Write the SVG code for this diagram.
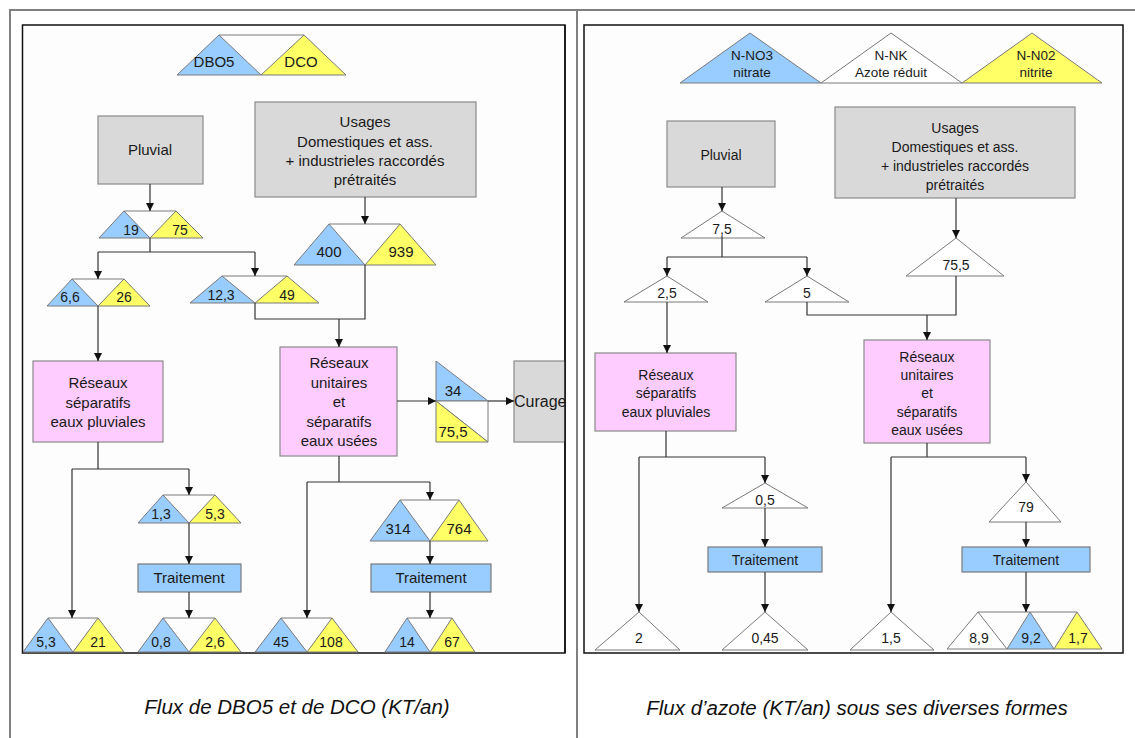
<svg xmlns="http://www.w3.org/2000/svg" width="1135" height="738" viewBox="0 0 1135 738">
<style>
text{font-family:"Liberation Sans",Arial,sans-serif;fill:#1a1a1a;text-anchor:middle}
.t15{font-size:15px}.t14{font-size:14px}.t13{font-size:13.5px}.t16{font-size:16px}
.cap{font-size:20.5px;font-style:italic;fill:#111}
.bl{fill:#99ccff;stroke:#7a7a7a;stroke-width:1}
.ye{fill:#ffff66;stroke:#7a7a7a;stroke-width:1}
.wh{fill:#ffffff;stroke:#7a7a7a;stroke-width:1}
.bar{fill:none;stroke:#7a7a7a;stroke-width:1}
.gray{fill:#d9d9d9;stroke:#8a8a8a;stroke-width:1.2}
.pink{fill:#ffccff;stroke:#8a8a8a;stroke-width:1.2}
.trt{fill:#99ccff;stroke:#7a7a7a;stroke-width:1.2}
.c{fill:none;stroke:#333;stroke-width:1.2}
.ca{fill:none;stroke:#333;stroke-width:1.2;marker-end:url(#ah)}
.frame{fill:#fdfdfd;stroke:#111;stroke-width:1.5}
.tab{fill:none;stroke:#808080;stroke-width:2}
</style>
<defs>
<marker id="ah" markerUnits="userSpaceOnUse" markerWidth="8" markerHeight="8" refX="8" refY="4" orient="auto">
<path d="M0,0 L8,4 L0,8 z" fill="#111"/>
</marker>
<clipPath id="clipL"><rect x="22.5" y="25" width="542.5" height="628"/></clipPath>
</defs>
<rect x="0" y="0" width="1135" height="738" fill="#ffffff"/>
<g id="table">
<path class="tab" d="M10,738 V10 H1135 M577,10 V738"/>
</g>
<rect id="frameL" class="frame" x="22.5" y="25" width="542.5" height="628"/>
<rect id="frameR" class="frame" x="584" y="25" width="539" height="628"/>

<!-- LEFT PANEL -->
<g id="legendL">
<path class="bar" d="M219,35 H304"/>
<polygon class="bl" points="177,75 219,35 261,75"/>
<polygon class="ye" points="261,75 304,35 346,75"/>
<text class="t15" x="214" y="67">DBO5</text>
<text class="t15" x="301" y="67">DCO</text>
</g>
<g id="pluvialL"><rect class="gray" x="98" y="116" width="105" height="68"/><text class="t15" x="150" y="155">Pluvial</text></g>
<g id="usagesL"><rect class="gray" x="255" y="102" width="221" height="95"/>
<text class="t15" x="365" y="127">Usages</text><text class="t15" x="365" y="147">Domestiques et ass.</text><text class="t15" x="365" y="166">+ industrieles raccordés</text><text class="t15" x="365" y="185">prétraités</text></g>
<g id="n19_75"><path class="bar" d="M124,211 H176"/><polygon class="bl" points="99,238 124,211 150,238"/><polygon class="ye" points="150,238 176,211 203,238"/>
<text class="t14" x="131" y="235">19</text><text class="t14" x="180" y="235">75</text></g>
<g id="n400_939"><path class="bar" d="M329,224 H400"/><polygon class="bl" points="294,265 329,224 365,265"/><polygon class="ye" points="365,265 400,224 436,265"/>
<text class="t15" x="329" y="257">400</text><text class="t15" x="401" y="257">939</text></g>
<g id="n66_26"><path class="bar" d="M72,279 H124"/><polygon class="bl" points="47,306 72,279 98,306"/><polygon class="ye" points="98,306 124,279 150,306"/>
<text class="t14" x="70" y="302">6,6</text><text class="t14" x="124" y="302">26</text></g>
<g id="n123_49"><path class="bar" d="M222,276 H287"/><polygon class="bl" points="190,303 222,276 255,303"/><polygon class="ye" points="255,303 287,276 319,303"/>
<text class="t14" x="221" y="300">12,3</text><text class="t14" x="287" y="300">49</text></g>
<g id="resSepL"><rect class="pink" x="33" y="361" width="130" height="81"/>
<text class="t15" x="98" y="388">Réseaux</text><text class="t15" x="98" y="408">séparatifs</text><text class="t15" x="98" y="427">eaux pluviales</text></g>
<g id="resUniL"><rect class="pink" x="280" y="347" width="117" height="109"/>
<text class="t15" x="339" y="368">Réseaux</text><text class="t15" x="339" y="388">unitaires</text><text class="t15" x="339" y="407">et</text><text class="t15" x="339" y="427">séparatifs</text><text class="t15" x="339" y="446">eaux usées</text></g>
<g id="n34_755">
<polygon class="bl" points="436,361 436,401 488,401"/>
<polygon class="wh" points="436,401 488,401 488,442"/>
<polygon class="ye" points="436,401 436,442 488,442"/>
<text class="t15" x="453" y="396">34</text><text class="t15" x="453" y="437">75,5</text></g>
<g id="curage" clip-path="url(#clipL)"><rect class="gray" x="514" y="361" width="70" height="81"/><text class="t16" x="514" y="407" style="text-anchor:start">Curage</text></g>
<g id="n13_53"><path class="bar" d="M163,495 H215"/><polygon class="bl" points="138,523 163,495 189,523"/><polygon class="ye" points="189,523 215,495 241,523"/>
<text class="t14" x="161" y="519">1,3</text><text class="t14" x="215" y="519">5,3</text></g>
<g id="n314_764"><path class="bar" d="M400,500 H459"/><polygon class="bl" points="370,541 400,500 430,541"/><polygon class="ye" points="430,541 459,500 488,541"/>
<text class="t15" x="398" y="534">314</text><text class="t15" x="459" y="534">764</text></g>
<g id="traitL1"><rect class="trt" x="138" y="564" width="103" height="28"/><text class="t15" x="189" y="583">Traitement</text></g>
<g id="traitL2"><rect class="trt" x="371" y="564" width="120" height="28"/><text class="t15" x="431" y="583">Traitement</text></g>
<g id="n53_21"><path class="bar" d="M48,618 H98"/><polygon class="bl" points="23,652 48,618 73,652"/><polygon class="ye" points="73,652 98,618 124,652"/>
<text class="t14" x="46" y="647">5,3</text><text class="t14" x="98" y="647">21</text></g>
<g id="n08_26"><path class="bar" d="M163,618 H215"/><polygon class="bl" points="138,652 163,618 189,652"/><polygon class="ye" points="189,652 215,618 241,652"/>
<text class="t14" x="161" y="647">0,8</text><text class="t14" x="215" y="647">2,6</text></g>
<g id="n45_108"><path class="bar" d="M281,618 H332"/><polygon class="bl" points="255,652 281,618 307,652"/><polygon class="ye" points="307,652 332,618 358,652"/>
<text class="t14" x="281" y="647">45</text><text class="t14" x="331" y="647">108</text></g>
<g id="n14_67"><path class="bar" d="M407,618 H452"/><polygon class="bl" points="385,652 407,618 430,652"/><polygon class="ye" points="430,652 452,618 475,652"/>
<text class="t14" x="407" y="647">14</text><text class="t14" x="452" y="647">67</text></g>

<!-- RIGHT PANEL -->
<g id="legendR">
<polygon class="bl" points="680,83 750,33 821,83"/>
<polygon class="wh" points="821,83 891,33 962,83"/>
<polygon class="ye" points="962,83 1032,33 1102,83"/>
<text class="t13" x="752" y="60">N-NO3</text><text class="t13" x="752" y="77">nitrate</text>
<text class="t13" x="891" y="60">N-NK</text><text class="t13" x="891" y="77">Azote réduit</text>
<text class="t13" x="1036" y="60">N-N02</text><text class="t13" x="1036" y="77">nitrite</text>
</g>
<g id="pluvialR"><rect class="gray" x="667" y="121" width="108" height="66"/><text class="t14" x="721" y="160">Pluvial</text></g>
<g id="usagesR"><rect class="gray" x="835" y="107" width="240" height="91"/>
<text class="t14" x="955" y="133">Usages</text><text class="t14" x="955" y="152">Domestiques et ass.</text><text class="t14" x="955" y="171">+ industrieles raccordés</text><text class="t14" x="955" y="190">prétraités</text></g>
<g id="n75"><polygon class="wh" points="681,238 722,211 765,238"/><text class="t14" x="722" y="234">7,5</text></g>
<g id="n25"><polygon class="wh" points="624,302 667,276 708,302"/><text class="t14" x="667" y="298">2,5</text></g>
<g id="n5"><polygon class="wh" points="765,302 807,276 849,302"/><text class="t14" x="807" y="298">5</text></g>
<g id="n755"><polygon class="wh" points="906,276 956,238 1004,276"/><text class="t14" x="956" y="270">75,5</text></g>
<g id="resSepR"><rect class="pink" x="595" y="353" width="141" height="78"/>
<text class="t14" x="666" y="380">Réseaux</text><text class="t14" x="666" y="398">séparatifs</text><text class="t14" x="666" y="417">eaux pluviales</text></g>
<g id="resUniR"><rect class="pink" x="864" y="340" width="126" height="103"/>
<text class="t14" x="927" y="362">Réseaux</text><text class="t14" x="927" y="380">unitaires</text><text class="t14" x="927" y="398">et</text><text class="t14" x="927" y="417">séparatifs</text><text class="t14" x="927" y="435">eaux usées</text></g>
<g id="n05"><polygon class="wh" points="722,508 765,483 808,508"/><text class="t14" x="765" y="505">0,5</text></g>
<g id="n79"><polygon class="wh" points="989,522 1026,482 1061,522"/><text class="t14" x="1026" y="512">79</text></g>
<g id="traitR1"><rect class="trt" x="708" y="547" width="114" height="25"/><text class="t14" x="765" y="565">Traitement</text></g>
<g id="traitR2"><rect class="trt" x="962" y="547" width="128" height="25"/><text class="t14" x="1026" y="565">Traitement</text></g>
<g id="n2"><polygon class="wh" points="595,650 639,612 680,650"/><text class="t14" x="639" y="643">2</text></g>
<g id="n045"><polygon class="wh" points="722,650 765,612 808,650"/><text class="t14" x="765" y="643">0,45</text></g>
<g id="n15"><polygon class="wh" points="850,650 891,612 934,650"/><text class="t14" x="891" y="643">1,5</text></g>
<g id="n89_92_17"><path class="bar" d="M978,612 H1077"/>
<polygon class="wh" points="947,649 978,612 1007,649"/><polygon class="bl" points="1007,649 1030,612 1054,649"/><polygon class="ye" points="1054,649 1077,612 1102,649"/>
<text class="t14" x="979" y="643">8,9</text><text class="t14" x="1031" y="643">9,2</text><text class="t14" x="1078" y="643">1,7</text></g>

<g id="connectors">
<!-- left -->
<path class="ca" d="M150,184 V211"/>
<path class="ca" d="M365,197 V224"/>
<path class="c" d="M150,238 V252 M98,252 H255"/>
<path class="ca" d="M98,252 V279"/>
<path class="ca" d="M255,252 V276"/>
<path class="c" d="M255,303 V319 H365 V265"/>
<path class="ca" d="M339,319 V347"/>
<path class="ca" d="M98,306 V361"/>
<path class="ca" d="M397,401 H436"/>
<path class="ca" d="M488,401 H514"/>
<path class="c" d="M98,442 V469 M72,469 H189"/>
<path class="ca" d="M72,469 V618"/>
<path class="ca" d="M189,469 V495"/>
<path class="ca" d="M189,523 V564"/>
<path class="ca" d="M189,592 V618"/>
<path class="c" d="M339,456 V482 M307,482 H430"/>
<path class="ca" d="M307,482 V618"/>
<path class="ca" d="M430,482 V500"/>
<path class="ca" d="M430,541 V564"/>
<path class="ca" d="M430,592 V618"/>
<!-- right -->
<path class="ca" d="M722,187 V211"/>
<path class="ca" d="M956,198 V238"/>
<path class="c" d="M722,236 V257 M667,257 H807"/>
<path class="ca" d="M667,257 V276"/>
<path class="ca" d="M807,257 V276"/>
<path class="c" d="M807,302 V315 H956 V276"/>
<path class="ca" d="M927,315 V340"/>
<path class="ca" d="M667,302 V353"/>
<path class="c" d="M666,431 V457 M639,457 H765"/>
<path class="ca" d="M639,457 V612"/>
<path class="ca" d="M765,457 V483"/>
<path class="ca" d="M765,508 V547"/>
<path class="ca" d="M765,572 V612"/>
<path class="c" d="M927,443 V457 M891,457 H1026"/>
<path class="ca" d="M891,457 V612"/>
<path class="ca" d="M1026,457 V482"/>
<path class="ca" d="M1026,522 V547"/>
<path class="ca" d="M1026,572 V612"/>
</g>
<path d="M565,25 V653" stroke="#111" stroke-width="1.5"/>
<text class="cap" x="297" y="714">Flux de DBO5 et de DCO (KT/an)</text>
<text class="cap" x="857" y="715">Flux d’azote (KT/an) sous ses diverses formes</text>
</svg>
